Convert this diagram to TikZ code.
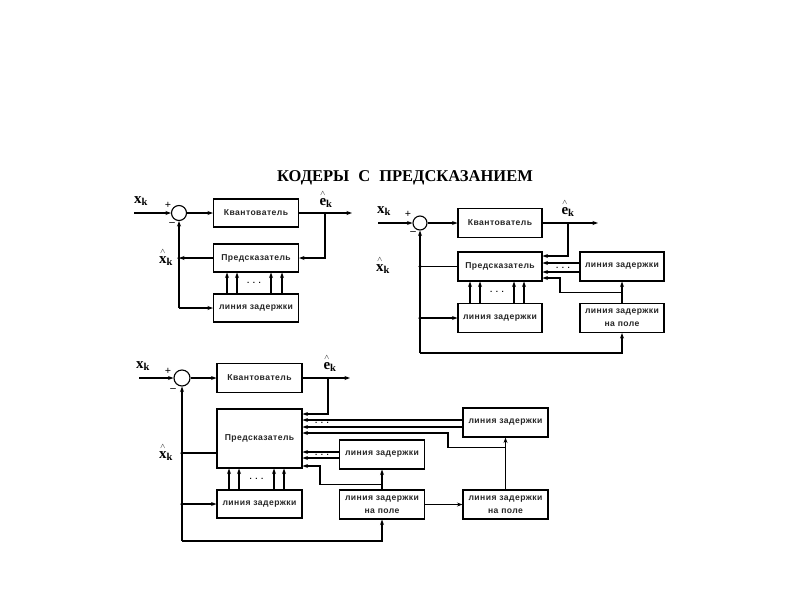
\documentclass[tikz,border=0pt]{standalone}
\usepackage{amsmath}
\usepackage{fontspec}
\setmainfont{Liberation Serif}
\newfontfamily\boxfont[LetterSpace=5]{Liberation Sans Bold}
\usetikzlibrary{arrows.meta,calc}
\newcommand{\hatbf}[1]{\overset{\scriptscriptstyle\wedge}{\mathbf{#1}}}
\begin{document}
\begin{tikzpicture}[x=1pt,y=-1pt,
  blk/.style={draw, line width=1.1pt, minimum width=85pt, minimum height=29pt, inner sep=1pt,
    font=\boxfont\fontsize{8.6}{13}\selectfont, align=center, text=black!85},
  sumc/.style={draw, circle, line width=1.1pt, minimum size=15pt, inner sep=0pt},
  ln/.style={line width=1.1pt},
  arr/.style={ln, -{Stealth[length=5.5pt,width=4pt]}},
  dot/.style={circle, fill, inner sep=0pt, minimum size=3.5pt},
  lab/.style={font=\fontsize{15}{15}\selectfont, inner sep=0pt},
  sgn/.style={font=\bfseries\fontsize{11}{11}\selectfont, inner sep=0pt},
  dts/.style={font=\boxfont\fontsize{8}{8}\selectfont, inner sep=0pt}
]
\useasboundingbox (0,0) rectangle (800,600);

\node[font=\bfseries\fontsize{16.5}{16.5}\selectfont] (title) at (405,178) {КОДЕРЫ\hspace{9pt}С\hspace{9pt}ПРЕДСКАЗАНИЕМ};

% ---------------- Diagram 1 ----------------
\node[sumc] (s1) at (179,213) {};
\node[blk, minimum height=28pt] (q1) at (256,213) {Квантователь};
\node[blk, minimum height=28pt] (p1) at (256,258) {Предсказатель};
\node[blk, minimum height=28pt] (d1) at (256,308) {линия задержки};
\coordinate (in1) at (134,213);
\coordinate (out1) at (352,213);
\coordinate (b1) at (325,213);
\coordinate (b1d) at (325,258);
\coordinate (j1) at (179,258);
\coordinate (c1) at (179,308);
\draw[arr] (in1) -- (s1);
\draw[arr] (s1) -- (q1);
\draw[arr] (q1) -- (out1);
\draw[arr] (b1) -- (b1d) -- (p1.east);
\draw[arr] (p1) -- (j1);
\draw[arr] (c1) -- (s1.south);
\draw[arr] (c1) -- (d1);
\node[dot] at (j1) {};
\foreach \dx in {-29,-19,15,26}
  \draw[arr] ([xshift=\dx pt]d1.north) -- ([xshift=\dx pt]p1.south);
\node[dts] at ($(d1.north)!0.5!(p1.south)+(-2,0)$) {. . .};
\node[lab] at (141,201) {$\mathbf{x}_{\mathbf{k}}$};
\node[lab] at (326,199) {$\hatbf{e}_{\mathbf{k}}$};
\node[lab] at (166,257) {$\hatbf{x}_{\mathbf{k}}$};
\node[sgn] at (168,205) {+};
\node[sgn] at (172,224) {–};

% ---------------- Diagram 2 ----------------
\node[sumc, minimum size=14pt] (s2) at (420,223) {};
\node[blk, minimum width=84pt] (q2) at (500,223) {Квантователь};
\node[blk, minimum width=84pt] (p2) at (500,266.5) {Предсказатель};
\node[blk, minimum width=84pt] (d2) at (500,318) {линия задержки};
\node[blk, minimum width=84pt] (r2) at (622,266.5) {линия задержки};
\node[blk, minimum width=84pt] (f2) at (622,318) {линия задержки\\на поле};
\coordinate (in2) at (378,223);
\coordinate (out2) at (598,223);
\coordinate (b2) at (568,223);
\coordinate (b2d) at (568,256);
\draw[arr] (in2) -- (s2);
\draw[arr] (s2) -- (q2);
\draw[arr] (q2) -- (out2);
\draw[arr] (b2) -- (b2d) -- (b2d -| p2.east);
\coordinate (r2a) at ([yshift=3.5pt]r2.west);
\coordinate (r2b) at ([yshift=-5.5pt]r2.west);
\draw[arr] (r2a) -- (r2a -| p2.east);
\draw[arr] (r2b) -- (r2b -| p2.east);
\node[dts] at (563,268) {. . .};
\coordinate (k2) at ($(f2.north)!0.5!(r2.south)$);
\coordinate (e2) at (560,278);
\draw[arr] (k2) -| (e2) -- (e2 -| p2.east);
\draw[arr] (f2) -- (r2);
\coordinate (c2) at (420,353);
\draw[arr] (c2) -- (s2.south);
\draw[arr] (c2) -| (f2.south);
\coordinate (j2) at (420,266.5);
\draw[ln] (p2.west) -- (j2);
\node[dot] at (j2) {};
\coordinate (m2) at (420,318);
\node[dot] at (m2) {};
\draw[arr] (m2) -- (d2.west);
\foreach \dx in {-30,-20,14,24}
  \draw[arr] ([xshift=\dx pt]d2.north) -- ([xshift=\dx pt]p2.south);
\node[dts] at ($(d2.north)!0.5!(p2.south)+(-3,0)$) {. . .};
\node[lab] at (384,211) {$\mathbf{x}_{\mathbf{k}}$};
\node[lab] at (568,208) {$\hatbf{e}_{\mathbf{k}}$};
\node[lab] at (383,265) {$\hatbf{x}_{\mathbf{k}}$};
\node[sgn] at (408,214) {+};
\node[sgn] at (413,233) {–};

% ---------------- Diagram 3 ----------------
\node[sumc, minimum size=16pt] (s3) at (182,378) {};
\node[blk] (q3) at (259.5,378) {Квантователь};
\node[blk, minimum height=59pt] (p3) at (259.5,438.5) {Предсказатель};
\node[blk, minimum height=28pt] (d3) at (259.5,504) {линия задержки};
\node[blk] (m3) at (382,454.5) {линия задержки};
\node[blk] (t3) at (505.5,422.5) {линия задержки};
\node[blk] (f31) at (382,504.5) {линия задержки\\на поле};
\node[blk] (f32) at (505.5,504.5) {линия задержки\\на поле};
\coordinate (in3) at (139,378);
\coordinate (out3) at (350,378);
\coordinate (b3) at (328,378);
\coordinate (b3d) at (328,414);
\draw[arr] (in3) -- (s3);
\draw[arr] (s3) -- (q3);
\draw[arr] (q3) -- (out3);
\draw[arr] (b3) -- (b3d) -- (b3d -| p3.east);
\coordinate (t3a) at ([yshift=2.5pt]t3.west);
\coordinate (t3b) at ([yshift=-4.5pt]t3.west);
\draw[arr] (t3a) -- (t3a -| p3.east);
\draw[arr] (t3b) -- (t3b -| p3.east);
\node[dts] at (322,423) {. . .};
\coordinate (k3) at ([yshift=-10pt]t3.south);
\coordinate (e3) at (448,433);
\draw[arr] (k3) -| (e3) -- (e3 -| p3.east);
\coordinate (m3a) at ([yshift=2.5pt]m3.west);
\coordinate (m3b) at ([yshift=-3.5pt]m3.west);
\draw[arr] (m3a) -- (m3a -| p3.east);
\draw[arr] (m3b) -- (m3b -| p3.east);
\node[dts] at (322,455) {. . .};
\coordinate (k3b) at ([yshift=-15pt]m3.south);
\coordinate (e3b) at (320,466);
\draw[arr] (k3b) -| (e3b) -- (e3b -| p3.east);
\draw[arr] (f31) -- (m3);
\draw[arr] (f32) -- (t3);
\draw[arr] (f31) -- (f32);
\coordinate (c3) at (182,541);
\draw[arr] (c3) -- (s3.south);
\draw[arr] (c3) -| (f31.south);
\coordinate (j3) at (182,453);
\draw[ln] (j3 -| p3.west) -- (j3);
\node[dot] at (j3) {};
\coordinate (m3d) at (182,504);
\node[dot] at (m3d) {};
\draw[arr] (m3d) -- (d3.west);
\foreach \dx in {-30.5,-20.5,14.5,24.5}
  \draw[arr] ([xshift=\dx pt]d3.north) -- ([xshift=\dx pt]p3.south);
\node[dts] at ($(d3.north)!0.5!(p3.south)+(-3,0)$) {. . .};
\node[lab] at (143,366) {$\mathbf{x}_{\mathbf{k}}$};
\node[lab] at (330,363) {$\hatbf{e}_{\mathbf{k}}$};
\node[lab] at (166,452) {$\hatbf{x}_{\mathbf{k}}$};
\node[sgn] at (168,371) {+};
\node[sgn] at (173,390) {–};
\end{tikzpicture}
\end{document}
